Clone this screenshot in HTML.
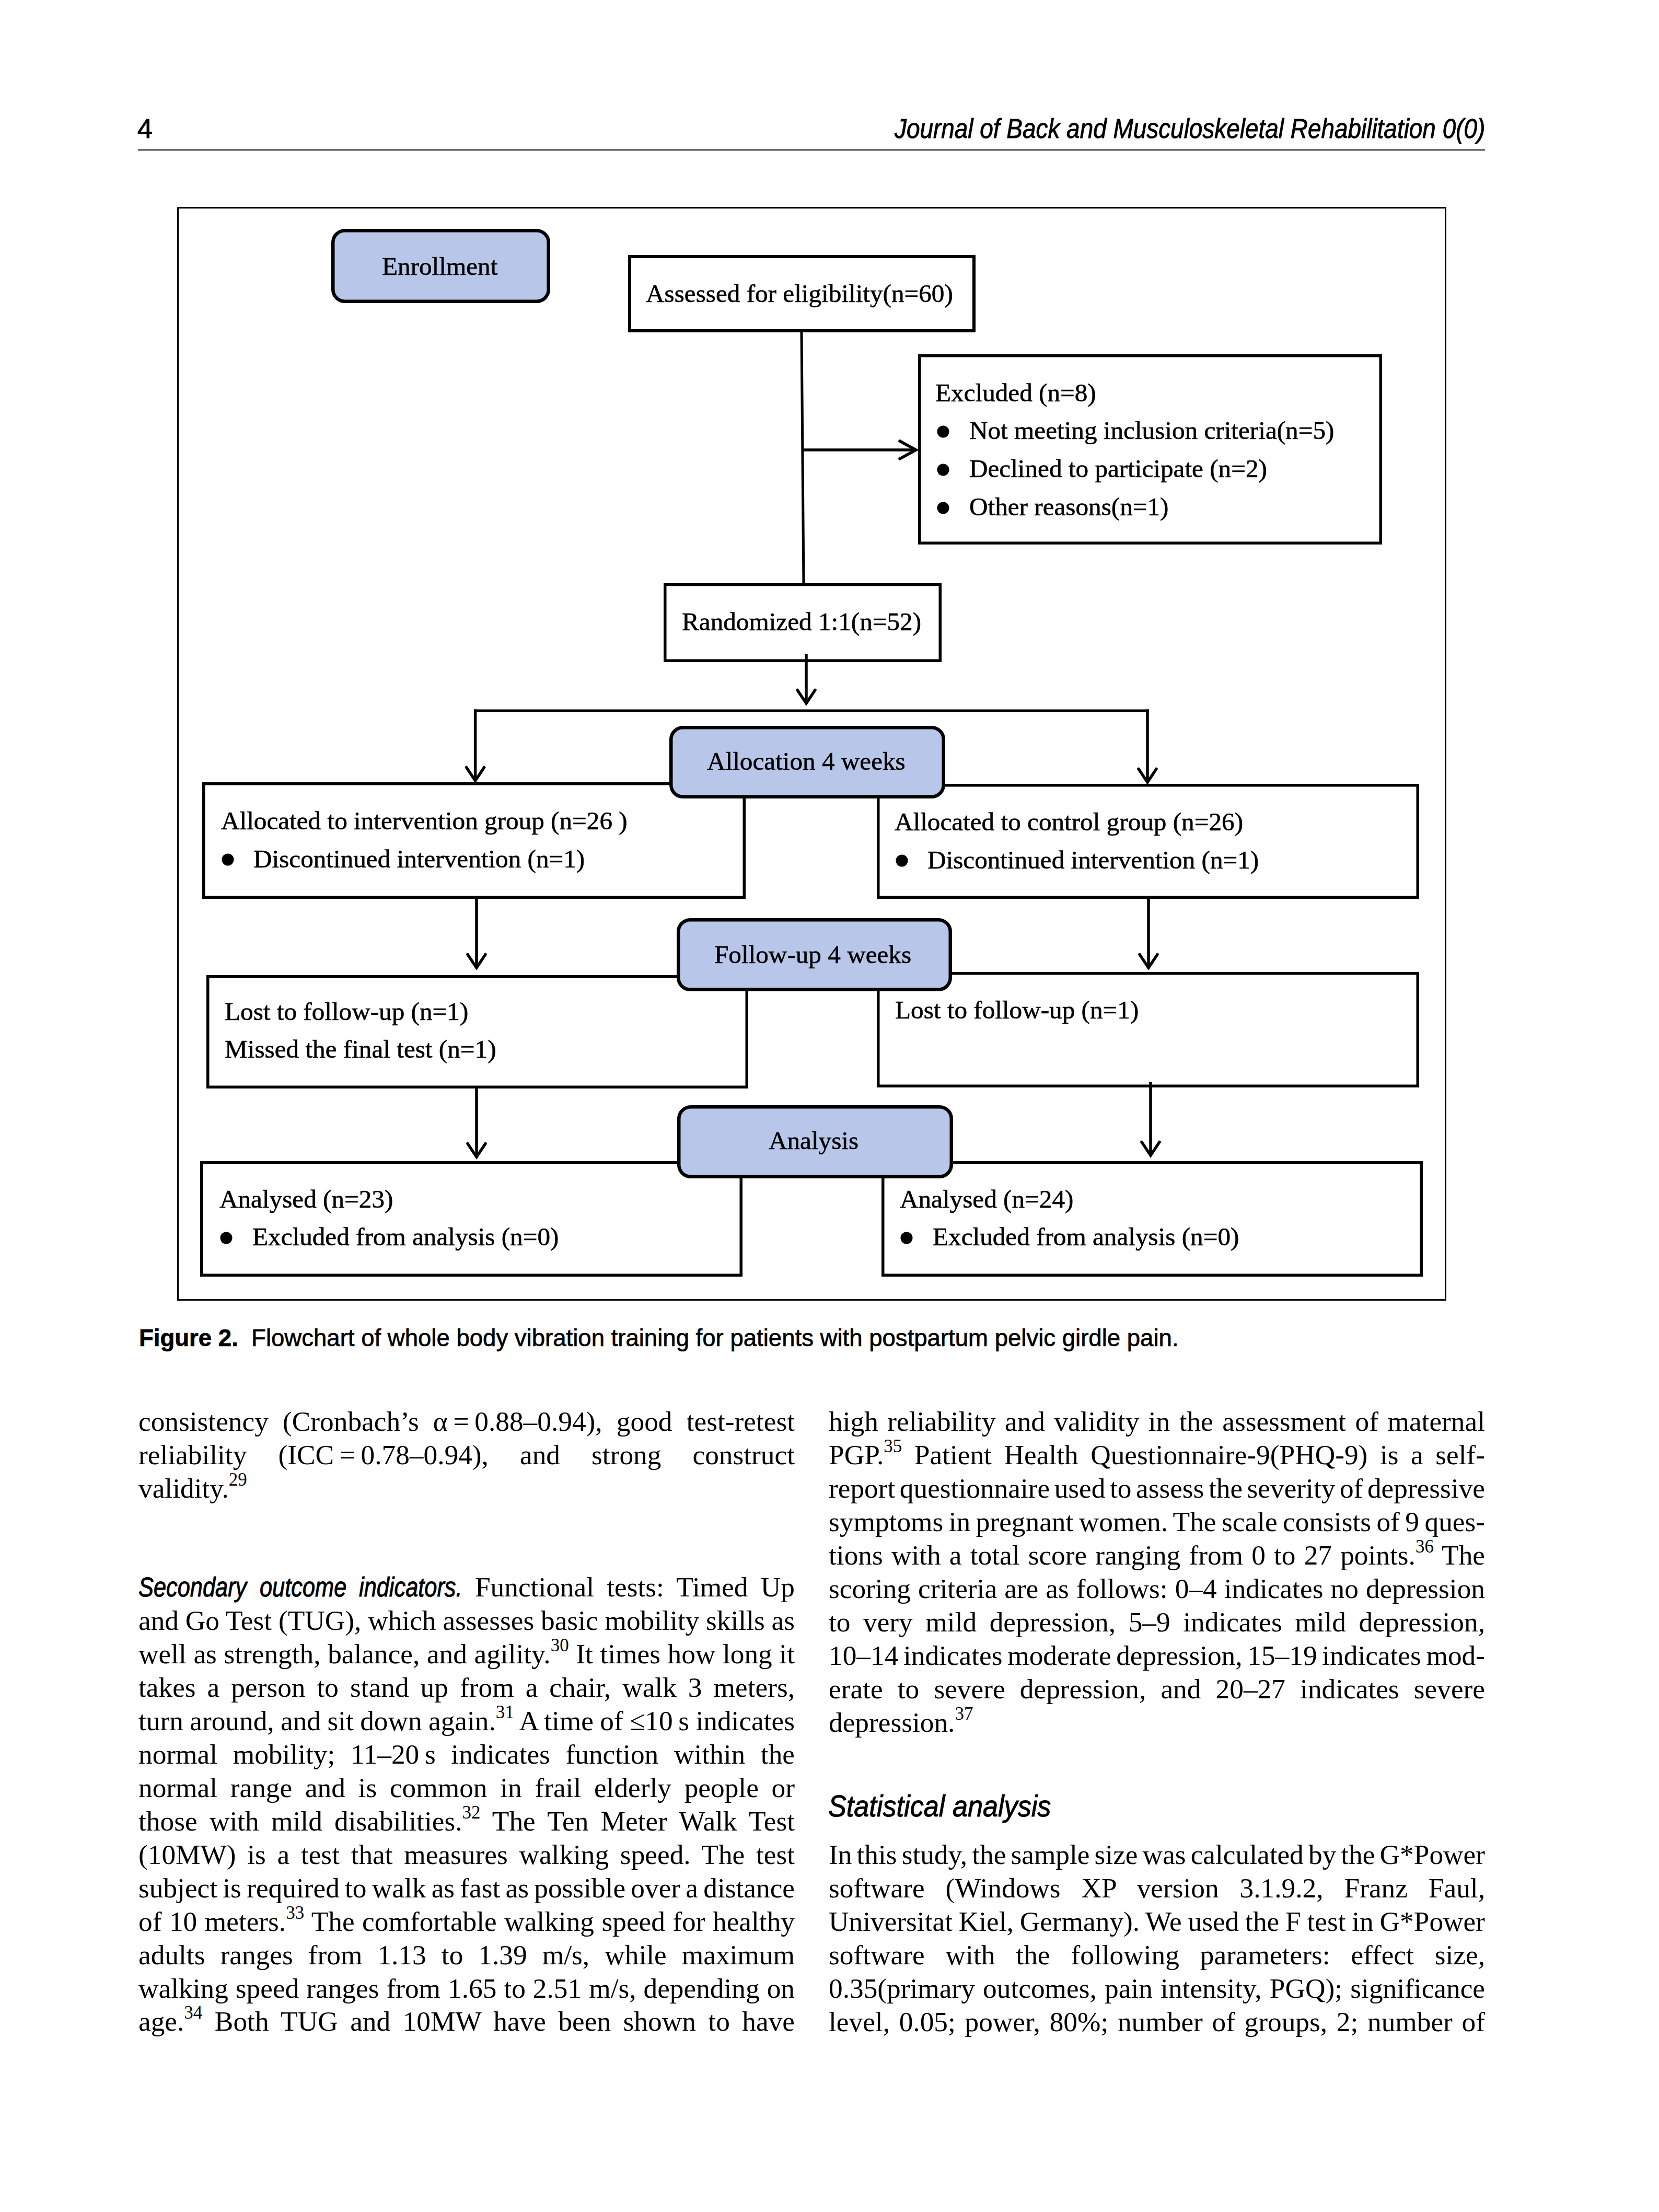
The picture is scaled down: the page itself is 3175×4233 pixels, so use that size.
<!DOCTYPE html>
<html><head><meta charset="utf-8"><title>page</title>
<style>
html,body{margin:0;padding:0;background:#fff;}
body{width:3175px;height:4233px;position:relative;overflow:hidden;color:#000;}
.t{position:absolute;white-space:nowrap;}
.sup{font-size:35px;position:relative;top:-23px;line-height:0;}
.gi{font-family:"Liberation Sans",sans-serif;font-style:italic;font-size:51px;display:inline-block;transform-origin:0 0;transform:scaleX(0.85);-webkit-text-stroke:1px #000;}
.fc{position:absolute;left:0;top:0;}
</style></head><body>
<svg class="fc" width="3175" height="4233" viewBox="0 0 3175 4233"><rect x="340.5" y="397.5" width="2426" height="2090" rx="0" fill="none" stroke="#000" stroke-width="3"/><rect x="637.25" y="441.25" width="412.5" height="135.5" rx="22.75" fill="#b7c6e9" stroke="#000" stroke-width="6.5"/><rect x="1205.0" y="491.0" width="659" height="142" rx="0" fill="none" stroke="#000" stroke-width="6"/><line x1="1534" y1="636" x2="1538" y2="1116" stroke="#000" stroke-width="5"/><line x1="1536" y1="861" x2="1752" y2="861" stroke="#000" stroke-width="5.5"/><polyline points="1722,844 1753,861 1722,878" fill="none" stroke="#000" stroke-width="5.5" stroke-linecap="round" stroke-linejoin="miter"/><rect x="1759.75" y="680.75" width="882.5" height="358.5" rx="0" fill="none" stroke="#000" stroke-width="5.5"/><rect x="1272.75" y="1118.75" width="526.5" height="145.5" rx="0" fill="none" stroke="#000" stroke-width="5.5"/><line x1="1543" y1="1252" x2="1543" y2="1345" stroke="#000" stroke-width="5.5"/><polyline points="1526,1320.5 1543,1346 1560,1320.5" fill="none" stroke="#000" stroke-width="5.5" stroke-linecap="round" stroke-linejoin="miter"/><line x1="907" y1="1360.3" x2="2199" y2="1360.3" stroke="#000" stroke-width="5.5"/><line x1="909.6" y1="1357.5" x2="909.6" y2="1494" stroke="#000" stroke-width="5.5"/><polyline points="892.6,1468.5 909.6,1494 926.6,1468.5" fill="none" stroke="#000" stroke-width="5.5" stroke-linecap="round" stroke-linejoin="miter"/><line x1="2196" y1="1357.5" x2="2196" y2="1497" stroke="#000" stroke-width="5.5"/><polyline points="2179,1471.5 2196,1497 2213,1471.5" fill="none" stroke="#000" stroke-width="5.5" stroke-linecap="round" stroke-linejoin="miter"/><rect x="389.75" y="1499.75" width="1034.5" height="217.5" rx="0" fill="none" stroke="#000" stroke-width="5.5"/><rect x="1680.75" y="1502.75" width="1032.5" height="214.5" rx="0" fill="none" stroke="#000" stroke-width="5.5"/><rect x="1284.25" y="1392.25" width="521.5" height="132.5" rx="22.75" fill="#b7c6e9" stroke="#000" stroke-width="6.5"/><line x1="912" y1="1719" x2="912" y2="1851" stroke="#000" stroke-width="5.5"/><polyline points="895,1826.5 912,1852 929,1826.5" fill="none" stroke="#000" stroke-width="5.5" stroke-linecap="round" stroke-linejoin="miter"/><line x1="2198" y1="1719" x2="2198" y2="1851" stroke="#000" stroke-width="5.5"/><polyline points="2181,1826.5 2198,1852 2215,1826.5" fill="none" stroke="#000" stroke-width="5.5" stroke-linecap="round" stroke-linejoin="miter"/><rect x="397.75" y="1868.75" width="1031.5" height="211.5" rx="0" fill="none" stroke="#000" stroke-width="5.5"/><rect x="1680.75" y="1862.75" width="1032.5" height="215.5" rx="0" fill="none" stroke="#000" stroke-width="5.5"/><rect x="1298.25" y="1760.25" width="520.5" height="133.5" rx="22.75" fill="#b7c6e9" stroke="#000" stroke-width="6.5"/><line x1="912" y1="2078" x2="912" y2="2213" stroke="#000" stroke-width="5.5"/><polyline points="895,2188.5 912,2214 929,2188.5" fill="none" stroke="#000" stroke-width="5.5" stroke-linecap="round" stroke-linejoin="miter"/><line x1="2202" y1="2070" x2="2202" y2="2210" stroke="#000" stroke-width="5.5"/><polyline points="2185,2185.5 2202,2211 2219,2185.5" fill="none" stroke="#000" stroke-width="5.5" stroke-linecap="round" stroke-linejoin="miter"/><rect x="385.75" y="2224.75" width="1032.5" height="215.5" rx="0" fill="none" stroke="#000" stroke-width="5.5"/><rect x="1689.75" y="2224.75" width="1030.5" height="215.5" rx="0" fill="none" stroke="#000" stroke-width="5.5"/><rect x="1299.25" y="2118.25" width="521.5" height="133.5" rx="22.75" fill="#b7c6e9" stroke="#000" stroke-width="6.5"/><circle cx="1805" cy="826" r="11.5" fill="#000"/><circle cx="1805" cy="899" r="11.5" fill="#000"/><circle cx="1805" cy="972" r="11.5" fill="#000"/><circle cx="436" cy="1645" r="11.5" fill="#000"/><circle cx="1726" cy="1647" r="11.5" fill="#000"/><circle cx="433" cy="2369" r="11.5" fill="#000"/><circle cx="1735" cy="2369" r="11.5" fill="#000"/><g font-family="Liberation Serif, serif" font-size="49.2" fill="#000" stroke="#000" stroke-width="0.6"><text x="731" y="526" text-anchor="start">Enrollment</text><text x="1236" y="577.5" text-anchor="start">Assessed for eligibility(n=60)</text><text x="1790" y="768" text-anchor="start">Excluded (n=8)</text><text x="1855" y="840" text-anchor="start">Not meeting inclusion criteria(n=5)</text><text x="1855" y="913" text-anchor="start">Declined to participate (n=2)</text><text x="1855" y="986" text-anchor="start">Other reasons(n=1)</text><text x="1305" y="1205.5" text-anchor="start">Randomized 1:1(n=52)</text><text x="1353" y="1473" text-anchor="start">Allocation 4 weeks</text><text x="423" y="1587" text-anchor="start">Allocated to intervention group (n=26 )</text><text x="485" y="1659.5" text-anchor="start">Discontinued intervention (n=1)</text><text x="1712" y="1588.5" text-anchor="start">Allocated to control group (n=26)</text><text x="1775" y="1661.5" text-anchor="start">Discontinued intervention (n=1)</text><text x="1367" y="1843" text-anchor="start">Follow-up 4 weeks</text><text x="430" y="1952" text-anchor="start">Lost to follow-up (n=1)</text><text x="430" y="2023.5" text-anchor="start">Missed the final test (n=1)</text><text x="1713" y="1948.5" text-anchor="start">Lost to follow-up (n=1)</text><text x="1471" y="2198.5" text-anchor="start">Analysis</text><text x="420" y="2310.5" text-anchor="start">Analysed (n=23)</text><text x="483" y="2383" text-anchor="start">Excluded from analysis (n=0)</text><text x="1722" y="2310.5" text-anchor="start">Analysed (n=24)</text><text x="1785" y="2383" text-anchor="start">Excluded from analysis (n=0)</text></g></svg>
<div class='t' style='left:263px;top:219.98px;font-size:52px;line-height:52px;font-family:"Liberation Sans", sans-serif;font-style:normal;font-weight:normal;-webkit-text-stroke:1px #000;'>4</div>
<div style='position:absolute;left:264px;top:286px;width:2578px;height:2px;background:#000'></div>
<div class='t' style='left:1712px;top:220.83px;font-size:51px;line-height:51px;font-family:"Liberation Sans", sans-serif;font-style:italic;transform-origin:0 0;transform:scaleX(0.9);-webkit-text-stroke:0.9px #000'>Journal of Back and Musculoskeletal Rehabilitation 0(0)</div>
<div class='t' style='left:266px;top:2537.06px;font-size:46px;line-height:46px;font-family:"Liberation Sans", sans-serif;font-style:normal;font-weight:normal;transform-origin:0 0;transform:scaleX(0.99);-webkit-text-stroke:0.7px #000;'><b>Figure 2.</b>&nbsp; Flowchart of whole body vibration training for patients with postpartum pelvic girdle pain.</div>
<div class='t' style='left:265px;top:2694.34px;font-size:53.33px;line-height:53.33px;font-family:"Liberation Serif", serif;font-style:normal;font-weight:normal;width:1256px;text-align:justify;text-align-last:justify;'>consistency (Cronbach’s α&#8201;=&#8201;0.88–0.94), good test-retest</div>
<div class='t' style='left:265px;top:2758.27px;font-size:53.33px;line-height:53.33px;font-family:"Liberation Serif", serif;font-style:normal;font-weight:normal;width:1256px;text-align:justify;text-align-last:justify;'>reliability (ICC&#8201;=&#8201;0.78–0.94), and strong construct</div>
<div class='t' style='left:265px;top:2822.20px;font-size:53.33px;line-height:53.33px;font-family:"Liberation Serif", serif;font-style:normal;font-weight:normal;width:1256px;'>validity.<span class="sup">29</span></div>
<div class='t' style='left:265px;top:3011.34px;font-size:53.33px;line-height:53.33px;font-family:"Liberation Serif", serif;font-style:normal;font-weight:normal;width:1256px;text-align:justify;text-align-last:justify;'><span class='gi' style='margin-right:-36.6px'>Secondary</span> <span class='gi' style='margin-right:-29.3px'>outcome</span> <span class='gi' style='margin-right:-34.9px'>indicators.</span> Functional tests: Timed Up</div>
<div class='t' style='left:265px;top:3075.27px;font-size:53.33px;line-height:53.33px;font-family:"Liberation Serif", serif;font-style:normal;font-weight:normal;width:1256px;text-align:justify;text-align-last:justify;word-spacing:-1.13px;'>and Go Test (TUG), which assesses basic mobility skills as</div>
<div class='t' style='left:265px;top:3139.20px;font-size:53.33px;line-height:53.33px;font-family:"Liberation Serif", serif;font-style:normal;font-weight:normal;width:1256px;text-align:justify;text-align-last:justify;word-spacing:-0.34px;'>well as strength, balance, and agility.<span class="sup">30</span> It times how long it</div>
<div class='t' style='left:265px;top:3203.13px;font-size:53.33px;line-height:53.33px;font-family:"Liberation Serif", serif;font-style:normal;font-weight:normal;width:1256px;text-align:justify;text-align-last:justify;'>takes a person to stand up from a chair, walk 3 meters,</div>
<div class='t' style='left:265px;top:3267.06px;font-size:53.33px;line-height:53.33px;font-family:"Liberation Serif", serif;font-style:normal;font-weight:normal;width:1256px;text-align:justify;text-align-last:justify;word-spacing:-1.57px;'>turn around, and sit down again.<span class="sup">31</span> A time of ≤10&#8201;s indicates</div>
<div class='t' style='left:265px;top:3330.99px;font-size:53.33px;line-height:53.33px;font-family:"Liberation Serif", serif;font-style:normal;font-weight:normal;width:1256px;text-align:justify;text-align-last:justify;'>normal mobility; 11–20&#8201;s indicates function within the</div>
<div class='t' style='left:265px;top:3394.92px;font-size:53.33px;line-height:53.33px;font-family:"Liberation Serif", serif;font-style:normal;font-weight:normal;width:1256px;text-align:justify;text-align-last:justify;'>normal range and is common in frail elderly people or</div>
<div class='t' style='left:265px;top:3458.85px;font-size:53.33px;line-height:53.33px;font-family:"Liberation Serif", serif;font-style:normal;font-weight:normal;width:1256px;text-align:justify;text-align-last:justify;'>those with mild disabilities.<span class="sup">32</span> The Ten Meter Walk Test</div>
<div class='t' style='left:265px;top:3522.78px;font-size:53.33px;line-height:53.33px;font-family:"Liberation Serif", serif;font-style:normal;font-weight:normal;width:1256px;text-align:justify;text-align-last:justify;'>(10MW) is a test that measures walking speed. The test</div>
<div class='t' style='left:265px;top:3586.71px;font-size:53.33px;line-height:53.33px;font-family:"Liberation Serif", serif;font-style:normal;font-weight:normal;width:1256px;text-align:justify;text-align-last:justify;word-spacing:-3.62px;'>subject is required to walk as fast as possible over a distance</div>
<div class='t' style='left:265px;top:3650.64px;font-size:53.33px;line-height:53.33px;font-family:"Liberation Serif", serif;font-style:normal;font-weight:normal;width:1256px;text-align:justify;text-align-last:justify;'>of 10 meters.<span class="sup">33</span> The comfortable walking speed for healthy</div>
<div class='t' style='left:265px;top:3714.57px;font-size:53.33px;line-height:53.33px;font-family:"Liberation Serif", serif;font-style:normal;font-weight:normal;width:1256px;text-align:justify;text-align-last:justify;'>adults ranges from 1.13 to 1.39 m/s, while maximum</div>
<div class='t' style='left:265px;top:3778.50px;font-size:53.33px;line-height:53.33px;font-family:"Liberation Serif", serif;font-style:normal;font-weight:normal;width:1256px;text-align:justify;text-align-last:justify;'>walking speed ranges from 1.65 to 2.51 m/s, depending on</div>
<div class='t' style='left:265px;top:3842.43px;font-size:53.33px;line-height:53.33px;font-family:"Liberation Serif", serif;font-style:normal;font-weight:normal;width:1256px;text-align:justify;text-align-last:justify;'>age.<span class="sup">34</span> Both TUG and 10MW have been shown to have</div>
<div class='t' style='left:1586px;top:2694.34px;font-size:53.33px;line-height:53.33px;font-family:"Liberation Serif", serif;font-style:normal;font-weight:normal;width:1256px;text-align:justify;text-align-last:justify;'>high reliability and validity in the assessment of maternal</div>
<div class='t' style='left:1586px;top:2758.27px;font-size:53.33px;line-height:53.33px;font-family:"Liberation Serif", serif;font-style:normal;font-weight:normal;width:1256px;text-align:justify;text-align-last:justify;'>PGP.<span class="sup">35</span> Patient Health Questionnaire-9(PHQ-9) is a self-</div>
<div class='t' style='left:1586px;top:2822.20px;font-size:53.33px;line-height:53.33px;font-family:"Liberation Serif", serif;font-style:normal;font-weight:normal;width:1256px;text-align:justify;text-align-last:justify;word-spacing:-5.54px;'>report questionnaire used to assess the severity of depressive</div>
<div class='t' style='left:1586px;top:2886.13px;font-size:53.33px;line-height:53.33px;font-family:"Liberation Serif", serif;font-style:normal;font-weight:normal;width:1256px;text-align:justify;text-align-last:justify;word-spacing:-3.52px;'>symptoms in pregnant women. The scale consists of 9 ques-</div>
<div class='t' style='left:1586px;top:2950.06px;font-size:53.33px;line-height:53.33px;font-family:"Liberation Serif", serif;font-style:normal;font-weight:normal;width:1256px;text-align:justify;text-align-last:justify;'>tions with a total score ranging from 0 to 27 points.<span class="sup">36</span> The</div>
<div class='t' style='left:1586px;top:3013.99px;font-size:53.33px;line-height:53.33px;font-family:"Liberation Serif", serif;font-style:normal;font-weight:normal;width:1256px;text-align:justify;text-align-last:justify;'>scoring criteria are as follows: 0–4 indicates no depression</div>
<div class='t' style='left:1586px;top:3077.92px;font-size:53.33px;line-height:53.33px;font-family:"Liberation Serif", serif;font-style:normal;font-weight:normal;width:1256px;text-align:justify;text-align-last:justify;'>to very mild depression, 5–9 indicates mild depression,</div>
<div class='t' style='left:1586px;top:3141.85px;font-size:53.33px;line-height:53.33px;font-family:"Liberation Serif", serif;font-style:normal;font-weight:normal;width:1256px;text-align:justify;text-align-last:justify;word-spacing:-4.68px;'>10–14 indicates moderate depression, 15–19 indicates mod-</div>
<div class='t' style='left:1586px;top:3205.78px;font-size:53.33px;line-height:53.33px;font-family:"Liberation Serif", serif;font-style:normal;font-weight:normal;width:1256px;text-align:justify;text-align-last:justify;'>erate to severe depression, and 20–27 indicates severe</div>
<div class='t' style='left:1586px;top:3269.71px;font-size:53.33px;line-height:53.33px;font-family:"Liberation Serif", serif;font-style:normal;font-weight:normal;width:1256px;'>depression.<span class="sup">37</span></div>
<div class='t' style='left:1585px;top:3426.90px;font-size:58px;line-height:58px;font-family:"Liberation Sans", sans-serif;font-style:italic;transform-origin:0 0;transform:scaleX(0.9);-webkit-text-stroke:1px #000'>Statistical analysis</div>
<div class='t' style='left:1586px;top:3523.34px;font-size:53.33px;line-height:53.33px;font-family:"Liberation Serif", serif;font-style:normal;font-weight:normal;width:1256px;text-align:justify;text-align-last:justify;word-spacing:-4.83px;'>In this study, the sample size was calculated by the G*Power</div>
<div class='t' style='left:1586px;top:3587.27px;font-size:53.33px;line-height:53.33px;font-family:"Liberation Serif", serif;font-style:normal;font-weight:normal;width:1256px;text-align:justify;text-align-last:justify;'>software (Windows XP version 3.1.9.2, Franz Faul,</div>
<div class='t' style='left:1586px;top:3651.20px;font-size:53.33px;line-height:53.33px;font-family:"Liberation Serif", serif;font-style:normal;font-weight:normal;width:1256px;text-align:justify;text-align-last:justify;word-spacing:-2.21px;'>Universitat Kiel, Germany). We used the F test in G*Power</div>
<div class='t' style='left:1586px;top:3715.13px;font-size:53.33px;line-height:53.33px;font-family:"Liberation Serif", serif;font-style:normal;font-weight:normal;width:1256px;text-align:justify;text-align-last:justify;'>software with the following parameters: effect size,</div>
<div class='t' style='left:1586px;top:3779.06px;font-size:53.33px;line-height:53.33px;font-family:"Liberation Serif", serif;font-style:normal;font-weight:normal;width:1256px;text-align:justify;text-align-last:justify;'>0.35(primary outcomes, pain intensity, PGQ); significance</div>
<div class='t' style='left:1586px;top:3842.99px;font-size:53.33px;line-height:53.33px;font-family:"Liberation Serif", serif;font-style:normal;font-weight:normal;width:1256px;text-align:justify;text-align-last:justify;'>level, 0.05; power, 80%; number of groups, 2; number of</div>
</body></html>
